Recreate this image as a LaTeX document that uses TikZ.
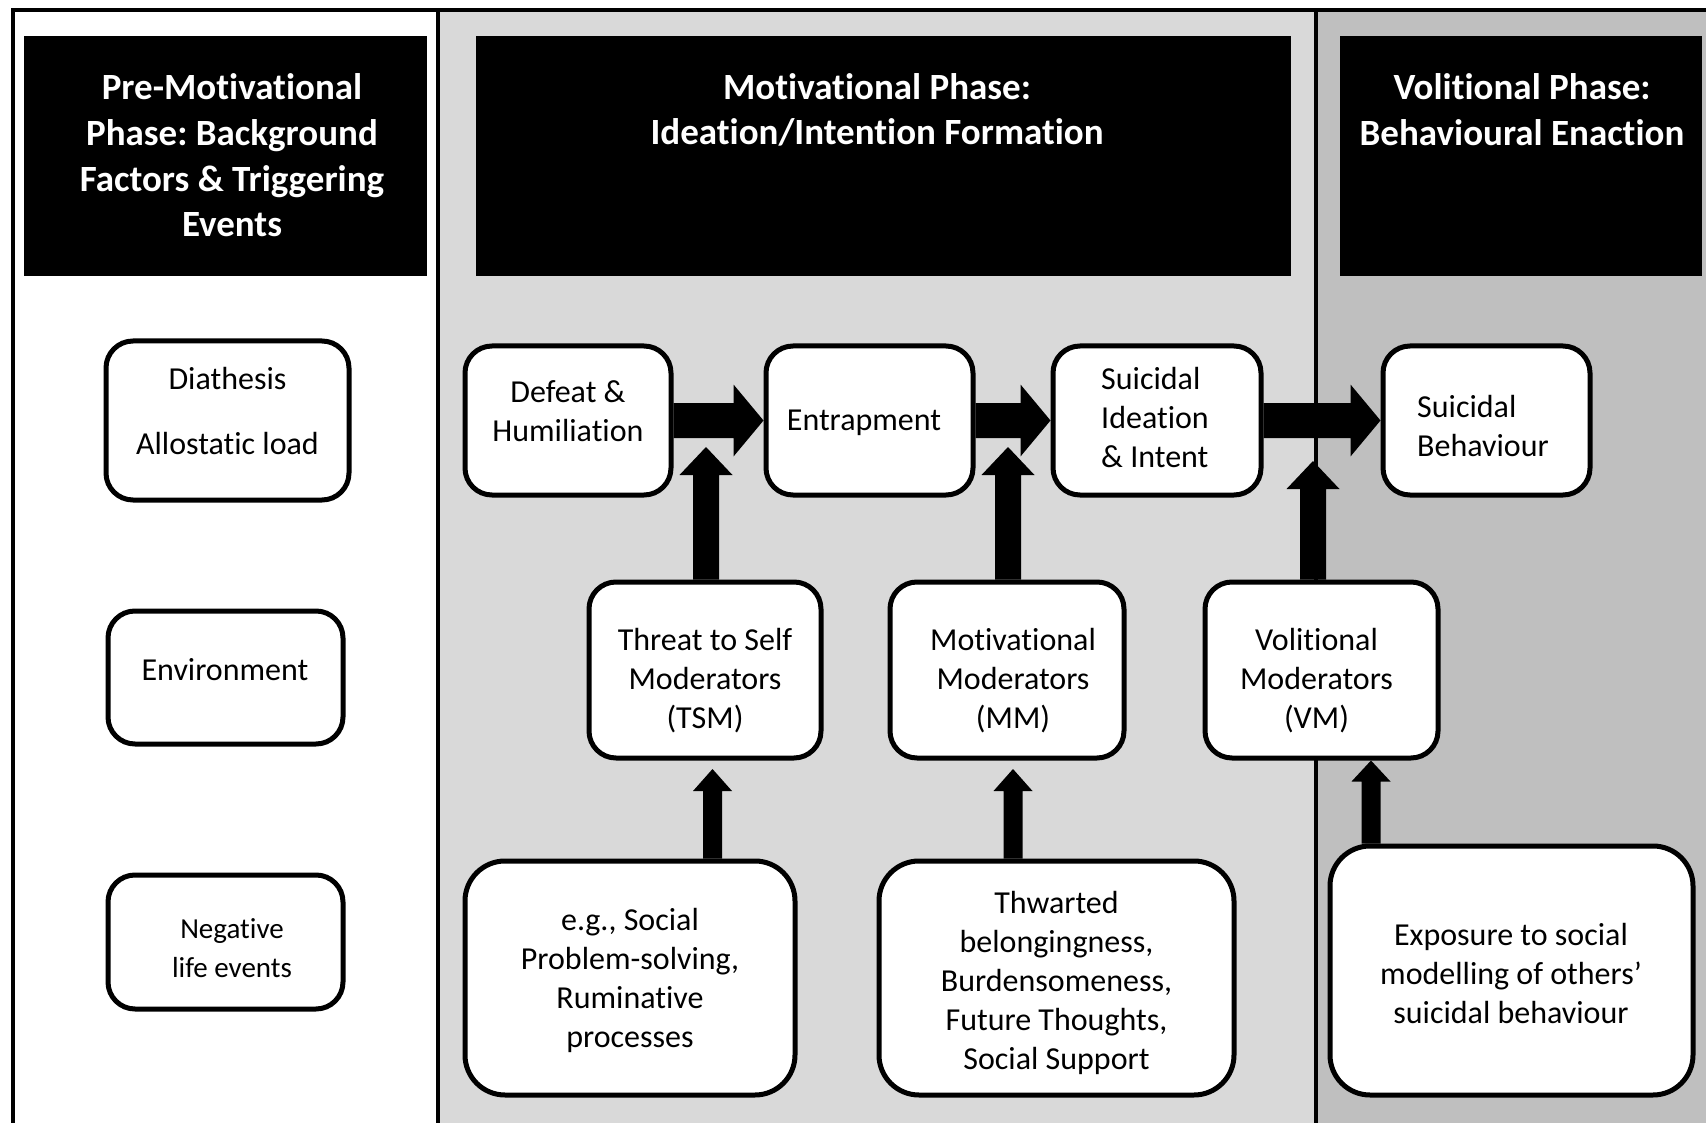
\documentclass[tikz,border=0pt]{standalone}
\usepackage{fontspec}
\setmainfont{Carlito}[Ligatures={NoCommon}]
\usetikzlibrary{calc}
\definecolor{panelA}{HTML}{D9D9D9}
\definecolor{panelB}{HTML}{BFBFBF}
\frenchspacing
% horizontal block arrow: from point, to point (tip), half shaft, half head, head length
\newcommand\hblockarrow[5]{\fill let \p1=(#1), \p2=(#2) in
  (\x1,\y1+#3) -- (\x2-#5,\y1+#3) -- (\x2-#5,\y1+#4) -- (\x2,\y1)
  -- (\x2-#5,\y1-#4) -- (\x2-#5,\y1-#3) -- (\x1,\y1-#3) -- cycle;}
% vertical (upward) block arrow
\newcommand\vblockarrow[5]{\fill let \p1=(#1), \p2=(#2) in
  (\x2-#3,\y1) -- (\x2-#3,\y2-#5) -- (\x2-#4,\y2-#5) -- (\x2,\y2)
  -- (\x2+#4,\y2-#5) -- (\x2+#3,\y2-#5) -- (\x2+#3,\y1) -- cycle;}
\tikzset{
  frameline/.style={line width=4.5pt},
  hdr/.style={fill=black, draw=none, inner sep=0pt},
  hdtxt/.style={font=\bfseries\fontsize{37}{45.7}\selectfont, text=white, align=center, inner sep=0pt},
  rbox/.style={draw=black, fill=white, line width=5pt, rounded corners=27pt, inner sep=0pt},
  bigbox/.style={rbox, rounded corners=40pt},
  txt/.style={font=\fontsize{32}{39}\selectfont, align=center, inner sep=0pt},
}
\begin{document}
\begin{tikzpicture}[x=1pt,y=-1pt]
\useasboundingbox (0,0) rectangle (1706,1123);
\fill[white] (0,0) rectangle (1706,1123);
% panels
\fill[panelA] (438,10) rectangle (1316,1123);
\fill[panelB] (1316,10) rectangle (1706,1123);
% frame and dividers
\draw[frameline] (13,1123) -- (13,10) -- (1706,10);
\draw[frameline] (438,10) -- (438,1123);
\draw[frameline] (1316,10) -- (1316,1123);
% headers
\node[hdr, minimum width=403pt, minimum height=240pt] (h1) at (225.5,156) {};
\node[hdr, minimum width=815pt, minimum height=240pt] (h2) at (883.5,156) {};
\node[hdr, minimum width=362pt, minimum height=240pt] (h3) at (1521,156) {};
\node[hdtxt] (h1t) at (232,155.5) {Pre-Motivational\\Phase: Background\\Factors \& Triggering\\Events};
\node[hdtxt] (h2t) at (877,110) {Motivational Phase:\\Ideation/Intention Formation};
\node[hdtxt] (h3t) at (1522,110) {Volitional Phase:\\Behavioural Enaction};
% left column boxes
\node[rbox, minimum width=243pt, minimum height=159pt] (diat) at (227.5,420.5) {};
\node[rbox, minimum width=235pt, minimum height=133pt] (env) at (225.5,677.5) {};
\node[rbox, minimum width=235pt, minimum height=134pt] (neg) at (225.5,942) {};
% main pathway
\node[rbox, minimum width=206pt, minimum height=149pt] (def) at (568,420.5) {};
\node[rbox, minimum width=207pt, minimum height=149pt] (ent) at (869.5,420.5) {};
\node[rbox, minimum width=208pt, minimum height=149pt] (sii) at (1157,420.5) {};
\node[rbox, minimum width=207pt, minimum height=149pt] (sb) at (1486.5,420.5) {};
% moderators
\node[rbox, minimum width=232pt, minimum height=176pt] (tsm) at (705,670) {};
\node[rbox, minimum width=234pt, minimum height=176pt] (mm) at (1007,670) {};
\node[rbox, minimum width=233pt, minimum height=176pt] (vm) at (1321.5,670) {};
% examples
\node[bigbox, minimum width=330pt, minimum height=234pt] (tsmex) at (630,978) {};
\node[bigbox, minimum width=355pt, minimum height=234pt] (mmex) at (1056.5,978) {};
\node[bigbox, minimum width=363pt, minimum height=249pt] (vmex) at (1511.5,970.5) {};
% horizontal arrows
\hblockarrow{def.east}{ent.west}{17.5pt}{36pt}{30pt}
\hblockarrow{ent.east}{sii.west}{17.5pt}{36pt}{30pt}
\hblockarrow{sii.east}{sb.west}{17.5pt}{36pt}{30pt}
% upward arrows from moderators
\coordinate (t1) at (706,447);
\coordinate (t2) at (1008,447);
\coordinate (t3) at (1313,461);
\vblockarrow{tsm.north -| t1}{t1}{13pt}{26.5pt}{28pt}
\vblockarrow{mm.north -| t2}{t2}{13pt}{26.5pt}{28pt}
\vblockarrow{vm.north -| t3}{t3}{13pt}{26.5pt}{28pt}
% upward arrows from examples
\coordinate (t4) at (712.5,769);
\coordinate (t5) at (1013,769);
\coordinate (c6) at (1371,0);
\vblockarrow{tsmex.north -| t4}{t4}{9.5pt}{19.5pt}{22pt}
\vblockarrow{mmex.north -| t5}{t5}{9.5pt}{19.5pt}{22pt}
\vblockarrow{vmex.north -| c6}{vm.south -| c6}{9.5pt}{19.5pt}{21pt}
% texts
\node[txt] (diatT) at (227.5,411.5) {Diathesis\\[26pt]Allostatic load};
\node[txt] (envT) at (225,670) {Environment};
\node[txt, font=\fontsize{29}{39}\selectfont] (negT) at (232,948.5) {Negative\\life events};
\node[txt] (defT) at (568,411.5) {Defeat \&\\Humiliation};
\node[txt] (entT) at (864,423) {Entrapment};
\node[txt, align=left] (siiT) at (1155,417.5) {Suicidal\\Ideation\\\& Intent};
\node[txt, align=left] (sbT) at (1483,426.5) {Suicidal\\Behaviour};
\node[txt] (tsmT) at (705,681) {Threat to Self\\Moderators\\(TSM)};
\node[txt] (mmT) at (1013,681) {Motivational\\Moderators\\(MM)};
\node[txt] (vmT) at (1316.5,681) {Volitional\\Moderators\\(VM)};
\node[txt] (tsmexT) at (630,980) {e.g., Social\\Problem-solving,\\Ruminative\\processes};
\node[txt] (mmexT) at (1056.5,983) {Thwarted\\belongingness,\\Burdensomeness,\\Future Thoughts,\\Social Support};
\node[txt] (vmexT) at (1511,974) {Exposure to social\\modelling of others’\\suicidal behaviour};
\end{tikzpicture}
\end{document}
